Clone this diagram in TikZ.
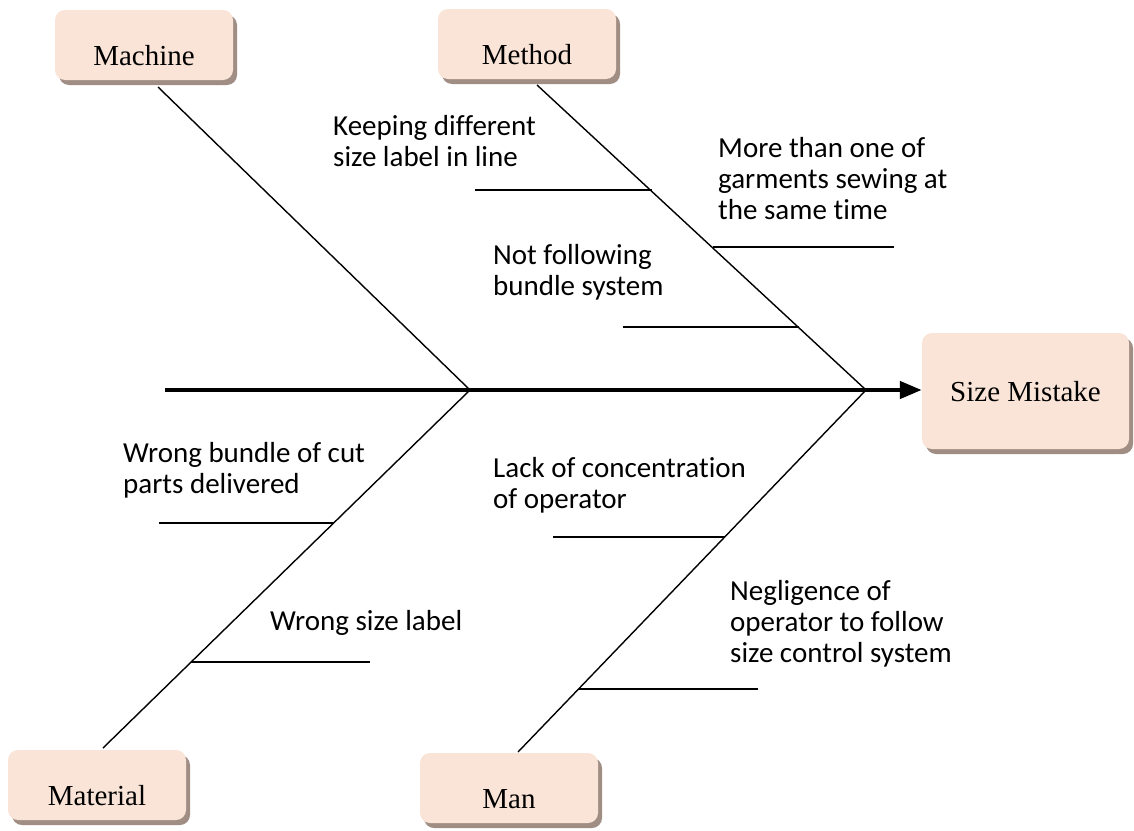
\documentclass[tikz,border=0pt]{standalone}
\usepackage{fontspec}
\setmainfont{Liberation Serif}
\newfontfamily\calfont[Ligatures=NoCommon]{Carlito}
\usetikzlibrary{shadows,arrows.meta}
\definecolor{boxfill}{HTML}{FAE4D7}
\definecolor{boxshade}{HTML}{A08E85}
\tikzset{
  % category box: label set a little below the middle
  category/.style={fill=boxfill, rounded corners=10pt, inner sep=0pt,
    minimum width=178pt, minimum height=70pt,
    text height=40pt, text depth=0pt,
    font=\fontsize{29}{33}\selectfont,
    drop shadow={shadow xshift=4pt, shadow yshift=-5pt, fill=boxshade, opacity=1}},
  bone/.style={line width=1.4pt},
  backbone/.style={line width=4.5pt, -{Triangle[length=22pt,width=17pt]}},
  % the base anchor of a multi-line label sits on its last line
  cause/.style={font=\calfont\fontsize{29}{31}\selectfont, align=left,
    anchor=base west, inner sep=0pt},
}
\begin{document}
\begin{tikzpicture}[x=1pt,y=-1pt]
  \useasboundingbox (0,0) rectangle (1134,830);

  % effect and category boxes
  \node[category, minimum width=207pt, minimum height=116pt,
        text height=20pt] (effect) at (1025.5,391) {Size Mistake};
  \node[category] (machine)  at (144,45)  {Machine};
  \node[category] (method)   at (527,44)  {Method};
  \node[category] (material) at (97,785)  {Material};
  \node[category] (man)      at (509,788) {Man};

  % junctions on the backbone and feet of the category bones
  \coordinate (tail) at (165,390);
  \coordinate (j1) at (470,390);
  \coordinate (j2) at (866,390);
  \coordinate (machfoot) at (158,87);
  \coordinate (methfoot) at (537,85);
  \coordinate (matfoot)  at (103,748);
  \coordinate (manfoot)  at (518,752);

  % backbone
  \draw[backbone] (tail) -- (tail -| effect.west);

  % category bones
  \draw[bone] (machfoot) -- (j1);
  \draw[bone] (methfoot) -- (j2);
  \draw[bone] (j1) -- (matfoot);
  \draw[bone] (j2) -- (manfoot);

  % cause twigs (on-bone point, free end)
  \coordinate (m1) at (651.7,190);  \coordinate (m1e) at (475,190);
  \coordinate (m2) at (712.8,247);  \coordinate (m2e) at (894,247);
  \coordinate (m3) at (798.5,327);  \coordinate (m3e) at (623,327);
  \coordinate (a1) at (333.7,523);  \coordinate (a1e) at (159,523);
  \coordinate (a2) at (191.2,662);  \coordinate (a2e) at (370,662);
  \coordinate (n1) at (724.7,537);  \coordinate (n1e) at (553,537);
  \coordinate (n2) at (578.6,689);  \coordinate (n2e) at (758,689);
  \foreach \p in {m1,m2,m3,a1,a2,n1,n2} \draw[bone] (\p) -- (\p e);

  % cause labels, placed by the baseline of their last line
  \node[cause] (t1) at (333,166) {Keeping different\\size label in line};
  \node[cause] (t2) at (718,219) {More than one of\\garments sewing at\\the same time};
  \node[cause] (t3) at (493,295) {Not following\\bundle system};
  \node[cause] (t4) at (123,493) {Wrong bundle of cut\\parts delivered};
  \node[cause] (t5) at (493,508) {Lack of concentration\\of operator};
  \node[cause] (t6) at (270,630) {Wrong size label};
  \node[cause] (t7) at (730,662) {Negligence of\\operator to follow\\size control system};
\end{tikzpicture}
\end{document}
